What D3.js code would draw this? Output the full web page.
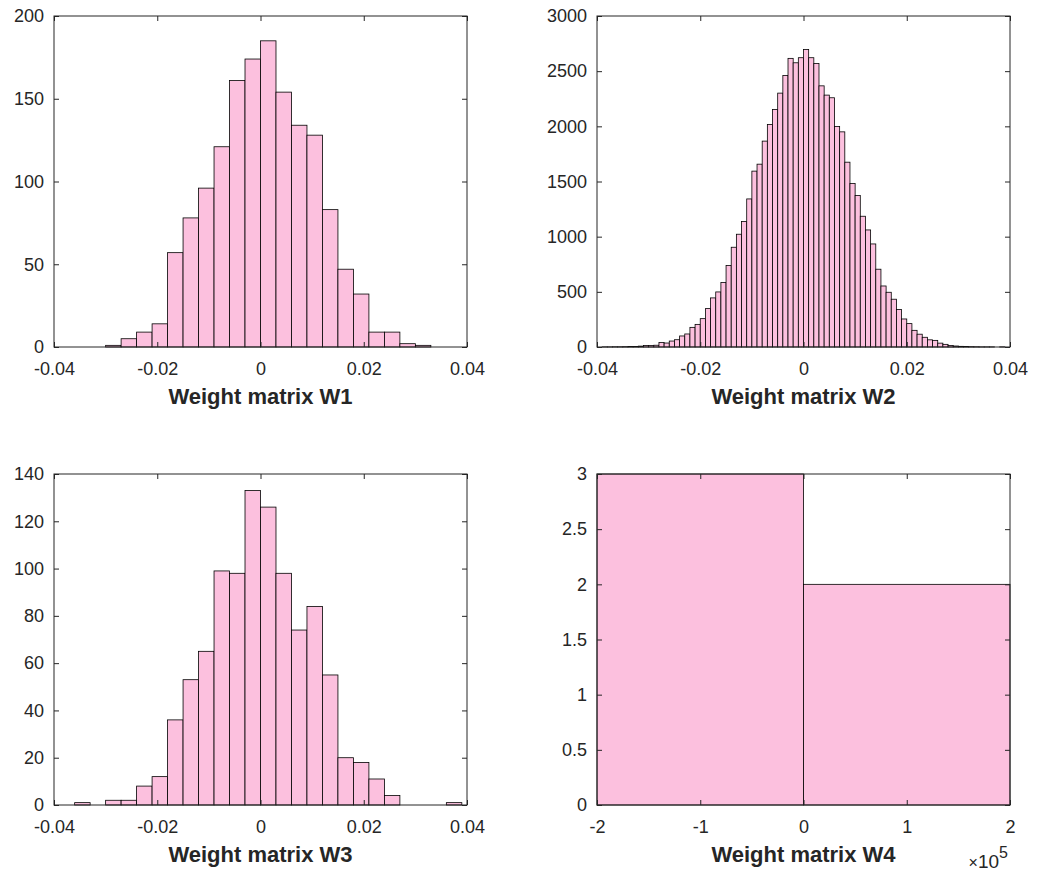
<!DOCTYPE html>
<html>
<head>
<meta charset="utf-8">
<script src="https://cdn.jsdelivr.net/npm/d3@7"></script>
<style>
  body { margin: 0; background: #fff; }
  svg text { font-family: "Liberation Sans", Arial, Helvetica, sans-serif; fill: #262626; }
</style>
</head>
<body>
<svg id="chart" width="1037" height="873"></svg>
<script>
// bin counts (bins are equal width)
const w1Start = -0.030, w1Step = 0.003;
const w1Counts = [1, 5, 9, 14, 57, 78, 96, 121, 161, 174, 185, 154, 134, 128, 83, 47, 32, 9, 9, 2, 1];

const w2Start = -0.040, w2Step = 0.001;
const w2Counts = [
    0, 1, 1, 2, 2, 3, 4, 5, 8, 13,
    14, 16, 40, 36, 54, 66, 100, 118, 178, 205,
    257, 348, 445, 499, 584, 738, 904, 1022, 1137, 1342,
    1594, 1657, 1866, 2017, 2153, 2301, 2461, 2616, 2576, 2622,
    2697, 2622, 2570, 2367, 2283, 2259, 1999, 1950, 1675, 1482,
    1373, 1185, 1061, 934, 705, 553, 496, 433, 339, 254,
    212, 151, 116, 88, 65, 60, 35, 24, 14, 9,
    6, 5, 3, 2, 1, 1, 1, 0, 1, 0
];

const w3Start = -0.036, w3Step = 0.003;
const w3Counts = [1, 0, 2, 2, 8, 12, 36, 53, 65, 99, 98, 133, 126, 98, 74, 84, 55, 20, 18, 11, 4, 0, 0, 0, 1];

const w4Edges = [-200000, 0, 200000];
const w4Counts = [3, 2];

// tick values
const smallXTicks = [-0.04, -0.02, 0, 0.02, 0.04];
const w1YTicks = [0, 50, 100, 150, 200];
const w2YTicks = [0, 500, 1000, 1500, 2000, 2500, 3000];
const w3YTicks = [0, 20, 40, 60, 80, 100, 120, 140];
const w4XTicks = [-200000, -100000, 0, 100000, 200000];
const w4YTicks = [0, 0.5, 1, 1.5, 2, 2.5, 3];

const titles = ['Weight matrix W1', 'Weight matrix W2', 'Weight matrix W3', 'Weight matrix W4'];

const pink = '#fcc0de',
    axisColor = '#262626',
    plotW = 413,
    plotH = 331;

const svg = d3.select('#chart');
svg.append('rect').attr('width', 1037).attr('height', 873).attr('fill', '#fff');

function edgesFrom(start, step, n) {
    return d3.range(n + 1).map((i) => +(start + i * step).toFixed(6));
}

function drawPanel(o) {
    const g = svg.append('g').attr('transform', `translate(${o.left},${o.top})`);
    const x = d3.scaleLinear().domain(o.xDomain).range([0, plotW]);
    const y = d3.scaleLinear().domain(o.yDomain).range([plotH, 0]);

    // bars
    g.selectAll('rect.bar')
        .data(o.counts)
        .enter()
        .append('rect')
        .attr('class', 'bar')
        .attr('x', (d, i) => x(o.edges[i]))
        .attr('width', (d, i) => x(o.edges[i + 1]) - x(o.edges[i]))
        .attr('y', (d) => y(d))
        .attr('height', (d) => y(0) - y(d))
        .attr('fill', pink)
        .attr('stroke', '#000')
        .attr('stroke-width', 0.8);

    // box
    g.append('rect')
        .attr('width', plotW)
        .attr('height', plotH)
        .attr('fill', 'none')
        .attr('stroke', axisColor)
        .attr('stroke-width', 1);

    const fmtX = o.xFmt || ((d) => String(d));
    const axes = [
        g.append('g').attr('transform', `translate(0,${plotH})`)
            .call(d3.axisBottom(x).tickValues(o.xTicks).tickFormat(fmtX).tickSize(-5).tickPadding(15)),
        g.append('g')
            .call(d3.axisTop(x).tickValues(o.xTicks).tickFormat('').tickSize(-5)),
        g.append('g')
            .call(d3.axisLeft(y).tickValues(o.yTicks).tickFormat((d) => String(d)).tickSize(-5).tickPadding(10)),
        g.append('g').attr('transform', `translate(${plotW},0)`)
            .call(d3.axisRight(y).tickValues(o.yTicks).tickFormat('').tickSize(-5)),
    ];
    axes.forEach((a) => {
        a.select('.domain').remove();
        a.selectAll('line').attr('stroke', axisColor);
        a.attr('font-size', null).attr('font-family', null);
        a.selectAll('text').style('font-size', '18px').attr('fill', axisColor);
    });

    // x label
    g.append('text')
        .attr('x', plotW / 2)
        .attr('y', plotH + 57)
        .attr('text-anchor', 'middle')
        .style('font-size', '22px')
        .style('font-weight', 'bold')
        .text(o.title);

    return g;
}

drawPanel({
    left: 54, top: 16,
    edges: edgesFrom(w1Start, w1Step, w1Counts.length), counts: w1Counts,
    xDomain: [-0.04, 0.04], yDomain: [0, 200],
    xTicks: smallXTicks, yTicks: w1YTicks, title: titles[0],
});

drawPanel({
    left: 597, top: 16,
    edges: edgesFrom(w2Start, w2Step, w2Counts.length), counts: w2Counts,
    xDomain: [-0.04, 0.04], yDomain: [0, 3000],
    xTicks: smallXTicks, yTicks: w2YTicks, title: titles[1],
});

drawPanel({
    left: 54, top: 474,
    edges: edgesFrom(w3Start, w3Step, w3Counts.length), counts: w3Counts,
    xDomain: [-0.04, 0.04], yDomain: [0, 140],
    xTicks: smallXTicks, yTicks: w3YTicks, title: titles[2],
});

const g4 = drawPanel({
    left: 597, top: 474,
    edges: w4Edges, counts: w4Counts,
    xDomain: [-200000, 200000], yDomain: [0, 3],
    xTicks: w4XTicks, yTicks: w4YTicks, title: titles[3],
    xFmt: (d) => String(d / 100000),
});

// exponent label of the W4 x axis
const expo = g4.append('text')
    .attr('x', plotW - 2)
    .attr('y', plotH + 63)
    .attr('text-anchor', 'end');
expo.append('tspan').style('font-size', '16px').text('\u00d7');
expo.append('tspan').style('font-size', '19px').text('10');
expo.append('tspan').attr('dy', -10).style('font-size', '16px').text('5');
</script>
</body>
</html>
